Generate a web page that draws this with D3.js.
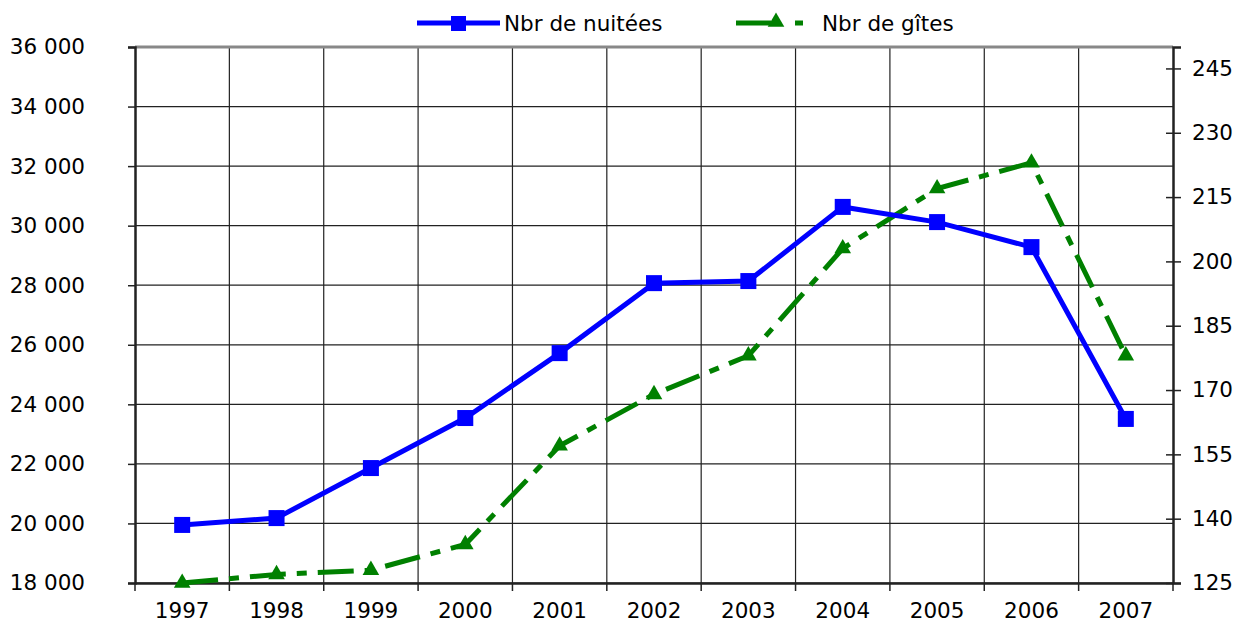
<!DOCTYPE html>
<html>
<head>
<meta charset="utf-8">
<script src="https://cdn.jsdelivr.net/npm/d3@7"></script>
<style>
  body { margin: 0; background: #fff; }
  svg { display: block; font-family: "DejaVu Sans", Verdana, sans-serif; }
</style>
</head>
<body>
<div id="chart"></div>
<script>
const years = ["1997", "1998", "1999", "2000", "2001", "2002", "2003", "2004", "2005", "2006", "2007"];
const nuitees = [19950, 20180, 21860, 23540, 25720, 28070, 28140, 30630, 30120, 29280, 23510];
const gites = [125, 127, 128, 134, 157, 169, 178, 203, 217, 223, 178];
const leftTicks = [18000, 20000, 22000, 24000, 26000, 28000, 30000, 32000, 34000, 36000];
const rightTicks = [125, 140, 155, 170, 185, 200, 215, 230, 245];

const width = 1235, height = 624;
const margin = { top: 47, right: 62, bottom: 41, left: 135 };
const fontSize = 21.5;

const svg = d3.select("#chart").append("svg")
  .attr("width", width)
  .attr("height", height);

const x = d3.scaleBand().domain(years).range([margin.left, width - margin.right]);
const yL = d3.scaleLinear().domain([18000, 36000]).range([height - margin.bottom, margin.top]);
const yR = d3.scaleLinear().domain([125, 250]).range([height - margin.bottom, margin.top]);

const fmt = (d) => d3.format(",")(d).replace(",", " ");

// gridlines
const grid = svg.append("g");
grid.selectAll(".hg").data(leftTicks).enter().append("line")
  .attr("x1", margin.left).attr("x2", width - margin.right)
  .attr("y1", (d) => yL(d)).attr("y2", (d) => yL(d))
  .attr("stroke", "#222").attr("stroke-width", 1.2);
grid.selectAll(".vg").data(years.slice(1)).enter().append("line")
  .attr("x1", (d) => x(d)).attr("x2", (d) => x(d))
  .attr("y1", margin.top).attr("y2", height - margin.bottom)
  .attr("stroke", "#222").attr("stroke-width", 1.2);

// top border
svg.append("line")
  .attr("x1", margin.left).attr("x2", width - margin.right)
  .attr("y1", margin.top).attr("y2", margin.top)
  .attr("stroke", "#888").attr("stroke-width", 3);

// left axis
const leftAxis = svg.append("g")
  .attr("transform", `translate(${margin.left},0)`)
  .call(d3.axisLeft(yL).tickValues(leftTicks).tickFormat(fmt).tickSize(7).tickPadding(43));
leftAxis.select(".domain").attr("stroke", "#222").attr("stroke-width", 2.5);
leftAxis.selectAll("line").attr("stroke", "#222").attr("stroke-width", 1.5);
leftAxis.selectAll("text").attr("font-size", fontSize).attr("fill", "#000")
  .attr("font-family", "DejaVu Sans");

// right axis
const rightAxis = svg.append("g")
  .attr("transform", `translate(${width - margin.right},0)`)
  .call(d3.axisRight(yR).tickValues(rightTicks).tickSize(8).tickPadding(11));
rightAxis.select(".domain").attr("stroke", "#222").attr("stroke-width", 2.5);
rightAxis.selectAll("line").attr("stroke", "#222").attr("stroke-width", 1.5).attr("x1", -7);
rightAxis.selectAll("text").attr("font-size", fontSize).attr("fill", "#000")
  .attr("font-family", "DejaVu Sans");

// bottom axis
const bottomAxis = svg.append("g")
  .attr("transform", `translate(0,${height - margin.bottom})`)
  .call(d3.axisBottom(x).tickSize(0).tickPadding(20));
bottomAxis.select(".domain").attr("stroke", "#222").attr("stroke-width", 2.5);
bottomAxis.selectAll("text").attr("font-size", fontSize).attr("fill", "#000")
  .attr("font-family", "DejaVu Sans");
bottomAxis.selectAll(".sep").data(years.concat(["end"])).enter().append("line")
  .attr("x1", (d, i) => x.range()[0] + i * x.bandwidth())
  .attr("x2", (d, i) => x.range()[0] + i * x.bandwidth())
  .attr("y1", 0).attr("y2", 8)
  .attr("stroke", "#222").attr("stroke-width", 1.5);

const cx = (d, i) => x(years[i]) + x.bandwidth() / 2;

// gîtes line (right axis)
const lineR = d3.line().x(cx).y((d) => yR(d));
svg.append("path").datum(gites)
  .attr("d", lineR)
  .attr("fill", "none").attr("stroke", "#008000").attr("stroke-width", 5)
  .attr("stroke-dasharray", "36 11 10 11");
const tri = d3.symbol().type(d3.symbolTriangle).size(120);
svg.selectAll(".tri").data(gites).enter().append("path")
  .attr("d", tri)
  .attr("transform", (d, i) => `translate(${cx(d, i)},${yR(d)})`)
  .attr("fill", "#008000");

// nuitées line (left axis)
const lineL = d3.line().x(cx).y((d) => yL(d));
svg.append("path").datum(nuitees)
  .attr("d", lineL)
  .attr("fill", "none").attr("stroke", "#0000ff").attr("stroke-width", 5);
svg.selectAll(".sq").data(nuitees).enter().append("rect")
  .attr("x", (d, i) => cx(d, i) - 8)
  .attr("y", (d) => yL(d) - 8)
  .attr("width", 16).attr("height", 16)
  .attr("fill", "#0000ff");

// legend
const legend = svg.append("g");
legend.append("line")
  .attr("x1", 417).attr("x2", 500).attr("y1", 23).attr("y2", 23)
  .attr("stroke", "#0000ff").attr("stroke-width", 5);
legend.append("rect")
  .attr("x", 451).attr("y", 16).attr("width", 15).attr("height", 15)
  .attr("fill", "#0000ff");
legend.append("text")
  .attr("x", 504).attr("y", 31).attr("font-size", fontSize).text("Nbr de nuitées");

legend.append("line")
  .attr("x1", 736).attr("x2", 803).attr("y1", 23).attr("y2", 23)
  .attr("stroke", "#008000").attr("stroke-width", 5)
  .attr("stroke-dasharray", "35 24 8 20");
legend.append("path")
  .attr("d", tri)
  .attr("transform", "translate(776,22)")
  .attr("fill", "#008000");
legend.append("text")
  .attr("x", 822).attr("y", 31).attr("font-size", fontSize).text("Nbr de gîtes");
</script>
</body>
</html>
